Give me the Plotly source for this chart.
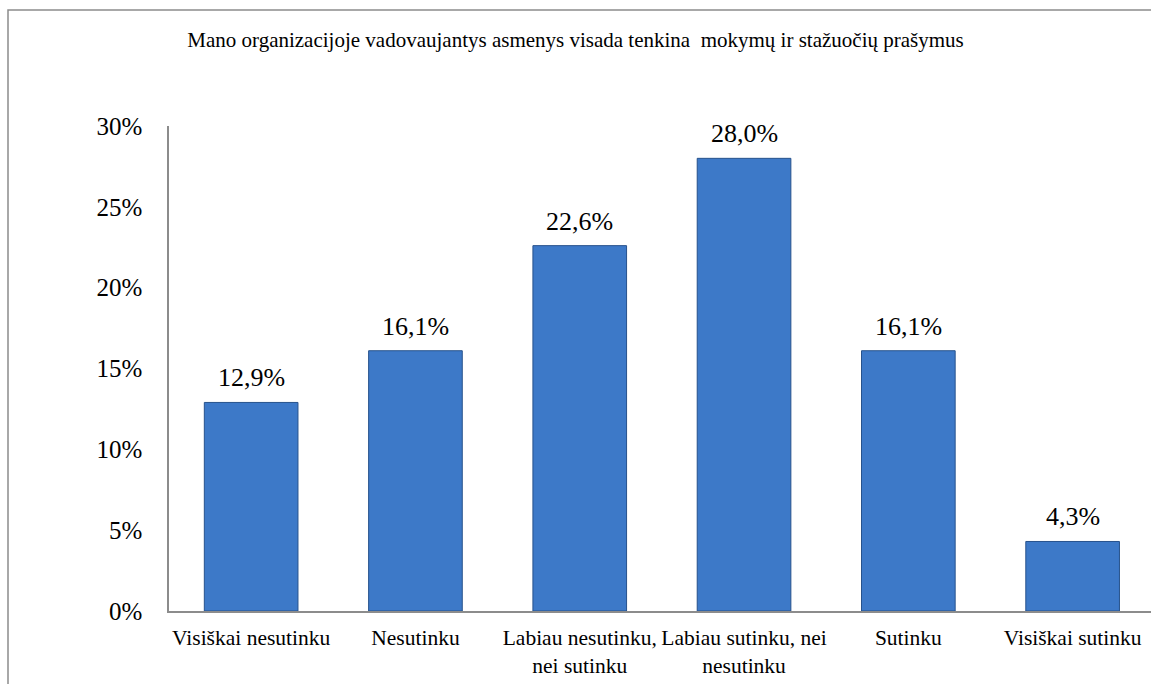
import plotly.graph_objects as go

categories = ["Visiškai nesutinku", "Nesutinku", "Labiau nesutinku,<br>nei sutinku",
              "Labiau sutinku, nei<br>nesutinku", "Sutinku", "Visiškai sutinku"]
values = [0.129, 0.161, 0.226, 0.280, 0.161, 0.043]
labels = ["12,9%", "16,1%", "22,6%", "28,0%", "16,1%", "4,3%"]
y_ticks = [0, 0.05, 0.10, 0.15, 0.20, 0.25, 0.30]
y_ticktext = ["0%", "5%", "10%", "15%", "20%", "25%", "30%"]
title = "Mano organizacijoje vadovaujantys asmenys visada tenkina  mokymų ir stažuočių prašymus"

FONT = "Liberation Serif, Times New Roman, serif"

xs = list(range(len(categories)))

fig = go.Figure(go.Bar(
    x=xs,
    y=values,
    width=0.57,
    marker=dict(color="#3d79c8", line=dict(color="#27528c", width=1)),
    cliponaxis=False,
))

for xi, v, lab in zip(xs, values, labels):
    fig.add_annotation(x=xi, y=v, text=lab, showarrow=False,
                       xanchor="center", yanchor="bottom", yshift=8,
                       font=dict(family=FONT, size=26, color="#000"))

fig.update_layout(
    width=1151, height=684,
    margin=dict(l=169, r=0, t=126, b=73),
    paper_bgcolor="white", plot_bgcolor="white",
    showlegend=False,
    title=dict(text=title, x=0.5, xanchor="center", xref="container",
               y=1 - 40 / 684, yanchor="middle", yref="container",
               font=dict(family=FONT, size=21, color="#000")),
    font=dict(family=FONT, color="#000"),
)

fig.update_xaxes(
    tickmode="array", tickvals=xs, ticktext=categories,
    range=[-0.5, 5.477], showgrid=False, zeroline=False,
    showline=True, linecolor="#8c8c8c", linewidth=1.5,
    ticks="", tickfont=dict(family=FONT, size=21.5, color="#000"),
    ticklabelstandoff=6, tickangle=0,
)
fig.update_yaxes(
    tickmode="array", tickvals=y_ticks, ticktext=y_ticktext,
    range=[0, 0.30], showgrid=False, zeroline=False,
    showline=True, linecolor="#8c8c8c", linewidth=1.5,
    ticks="", tickfont=dict(family=FONT, size=25, color="#000"),
    ticklabelstandoff=20,
)

# outer chart frame
fig.add_shape(type="rect", xref="paper", yref="paper",
              x0=(8 - 169) / 982, x1=1.02, y0=-0.3, y1=(611 - 10) / 485,
              line=dict(color="#8c8c8c", width=1.5), fillcolor="rgba(0,0,0,0)",
              layer="below")

fig.write_html("out.html")
